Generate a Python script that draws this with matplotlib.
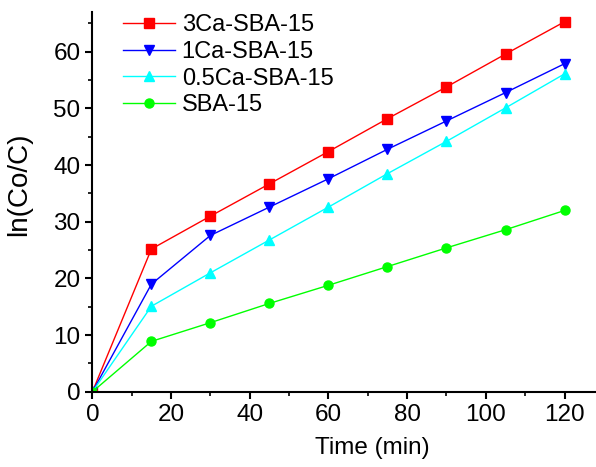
import numpy as np
import matplotlib
matplotlib.use("Agg")
import matplotlib.pyplot as plt
from matplotlib.ticker import MultipleLocator

plt.rcParams['font.family'] = ['Liberation Sans', 'DejaVu Sans']

# data
time = [0, 15, 30, 45, 60, 75, 90, 105, 120]
ca3 = [0, 25.2, 31.0, 36.7, 42.4, 48.2, 53.8, 59.6, 65.3]
ca1 = [0, 19.0, 27.6, 32.6, 37.6, 42.8, 47.8, 52.8, 57.9]
ca05 = [0, 15.1, 21.0, 26.8, 32.6, 38.5, 44.2, 50.1, 56.1]
sba = [0, 8.9, 12.2, 15.6, 18.8, 22.1, 25.4, 28.6, 32.0]

labels = ['3Ca-SBA-15', '1Ca-SBA-15', '0.5Ca-SBA-15', 'SBA-15']
colors = ['#ff0000', '#0000ff', '#00ffff', '#00ff00']
markers = ['s', 'v', '^', 'o']

fig = plt.figure(figsize=(5.96, 4.67), dpi=100)
ax = fig.add_axes([0.155, 0.161, 0.845, 0.813])

for y, lab, c, m in zip([ca3, ca1, ca05, sba], labels, colors, markers):
    ax.plot(time, y, color=c, marker=m, markersize=6.5, linewidth=1, label=lab)

ax.set_xlim(0, 128)
ax.set_ylim(0, 67)
ax.xaxis.set_major_locator(MultipleLocator(20))
ax.xaxis.set_minor_locator(MultipleLocator(10))
ax.yaxis.set_major_locator(MultipleLocator(10))
ax.yaxis.set_minor_locator(MultipleLocator(5))

ax.spines['top'].set_visible(False)
ax.spines['right'].set_visible(False)
ax.spines['left'].set_linewidth(1.5)
ax.spines['bottom'].set_linewidth(1.5)
ax.tick_params(which='major', direction='out', length=5, width=1.5, labelsize=17.5)
ax.tick_params(which='minor', direction='out', length=3, width=1.2)

ax.set_xlabel('Time (min)', fontsize=17.5)
ax.xaxis.set_label_coords(0.556, -0.12)
ax.set_ylabel('ln(Co/C)', fontsize=20)
ax.yaxis.set_label_coords(-0.119, 0.547)

ax.legend(loc='upper left', bbox_to_anchor=(0.178, 1.005), bbox_transform=fig.transFigure,
          frameon=False, fontsize=17, handlelength=2.2, handletextpad=0.3,
          labelspacing=0.2, borderpad=0.2)

fig.savefig('out.png', dpi=100)
